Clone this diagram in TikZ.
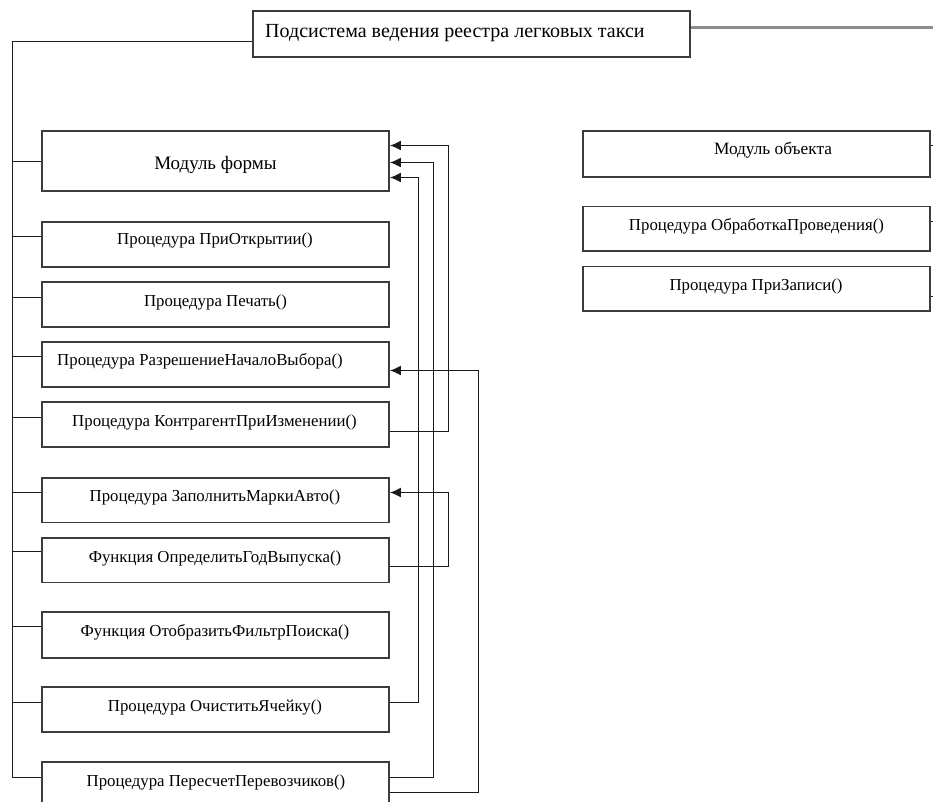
\documentclass[tikz,border=0pt]{standalone}
\usepackage{fontspec}
\setmainfont{Liberation Serif}
\usetikzlibrary{arrows.meta,calc}

\definecolor{edge}{HTML}{3C3C3C}
\definecolor{wire}{HTML}{1A1A1A}
\definecolor{greyline}{HTML}{8C8C8C}

\tikzset{
  box/.style={draw=edge, line width=1.7pt, fill=white, rectangle, inner sep=0pt,
              minimum width=347.3pt, minimum height=44.7pt},
  rbox/.style={box, minimum width=346.7pt},
  lbl/.style={anchor=base, inner sep=0pt, font=\fontsize{16.8}{20}\selectfont},
  wirestyle/.style={draw=wire, line width=1.5pt},
  link/.style={wirestyle, -{Latex[length=11pt,width=10pt]}},
}

\begin{document}
\begin{tikzpicture}[x=1pt,y=-1pt]
\useasboundingbox (0,0) rectangle (933,802);

% subsystem title
\node[box, minimum width=436.7pt, minimum height=45.7pt] (title) at (471.65,33.85) {};
\node[lbl, anchor=base west, font=\fontsize{20}{24}\selectfont] (titletxt) at (265,38) {Подсистема ведения реестра легковых такси};

% form module and its procedures
\node[box, minimum height=59.7pt] (mf) at (215.35,160.85) {};
\node[box] (p1) at (215.35,244.35) {};
\node[box] (p2) at (215.35,304.65) {};
\node[box] (p3) at (215.35,364.5) {};
\node[box] (p4) at (215.35,424.5) {};
\node[box] (p5) at (215.35,500) {};
\node[box] (p6) at (215.35,560.15) {};
\node[box, minimum height=46pt] (p7) at (215.35,634.7) {};
\node[box] (p8) at (215.35,709.5) {};
\node[box] (p9) at (215.35,784.6) {};

\node[lbl, font=\fontsize{19}{23}\selectfont] (mft) at (215.5,169.5) {Модуль формы};
\node[lbl] (p1t) at (215,244.2) {Процедура ПриОткрытии()};
\node[lbl] (p2t) at (215.5,306.3) {Процедура Печать()};
\node[lbl] (p3t) at (200,365.7) {Процедура РазрешениеНачалоВыбора()};
\node[lbl] (p4t) at (214.5,426.7) {Процедура КонтрагентПриИзменении()};
\node[lbl] (p5t) at (215,501.7) {Процедура ЗаполнитьМаркиАвто()};
\node[lbl] (p6t) at (215,562) {Функция ОпределитьГодВыпуска()};
\node[lbl] (p7t) at (215,636) {Функция ОтобразитьФильтрПоиска()};
\node[lbl] (p8t) at (215,711.7) {Процедура ОчиститьЯчейку()};
\node[lbl] (p9t) at (216,786.7) {Процедура ПересчетПеревозчиков()};

% object module and its procedures
\node[rbox, minimum height=46.3pt] (mo) at (756.65,154.15) {};
\node[rbox] (o1) at (756.65,228.85) {};
\node[rbox] (o2) at (756.65,288.85) {};

\node[lbl, font=\fontsize{17.3}{21}\selectfont] (mot) at (773,155) {Модуль объекта};
\node[lbl] (o1t) at (756.5,230) {Процедура ОбработкаПроведения()};
\node[lbl] (o2t) at (756,290) {Процедура ПриЗаписи()};

% free ends leaving the picture on the right
\coordinate (outA) at (945,27.5);
\coordinate (outB) at (945,145.5);
\coordinate (outC) at (945,221.5);
\coordinate (outD) at (945,296.5);

\draw[draw=greyline, line width=3pt] (outA -| title.east) -- (outA);
\draw[wirestyle] (outB -| mo.east) -- (outB);
\draw[wirestyle] (outC -| o1.east) -- (outC);
\draw[wirestyle] (outD -| o2.east) -- (outD);

% left bus from the title down to the last procedure
\coordinate (bustop) at (12.5,41.5);
\coordinate (busbot) at (12.5,777.5);
\draw[wirestyle] (bustop -| title.west) -- (bustop) -- (busbot);
\foreach \b/\y in {mf/161.5, p1/236.5, p2/297.5, p3/356.5, p4/417.5, p5/492.5, p6/551.5, p7/626.5, p8/702.5, p9/777.5}{
  \draw[wirestyle] (\b.west |- 0,\y) -- (bustop |- 0,\y);
}

% calls between procedures
\draw[link] (p4.east |- 0,431.5) -| (448.5,300) |- (mf.east |- 0,145.5);
\draw[link] (p9.east |- 0,777.5) -| (433.5,300) |- (mf.east |- 0,162.5);
\draw[link] (p8.east |- 0,702.5) -| (418.5,300) |- (mf.east |- 0,177.5);
\draw[link] (p9.east |- 0,792.5) -| (478.5,500) |- (p3.east |- 0,370.5);
\draw[link] (p6.east |- 0,566.5) -| (448.5,530) |- (p5.east |- 0,492.5);
\end{tikzpicture}
\end{document}
